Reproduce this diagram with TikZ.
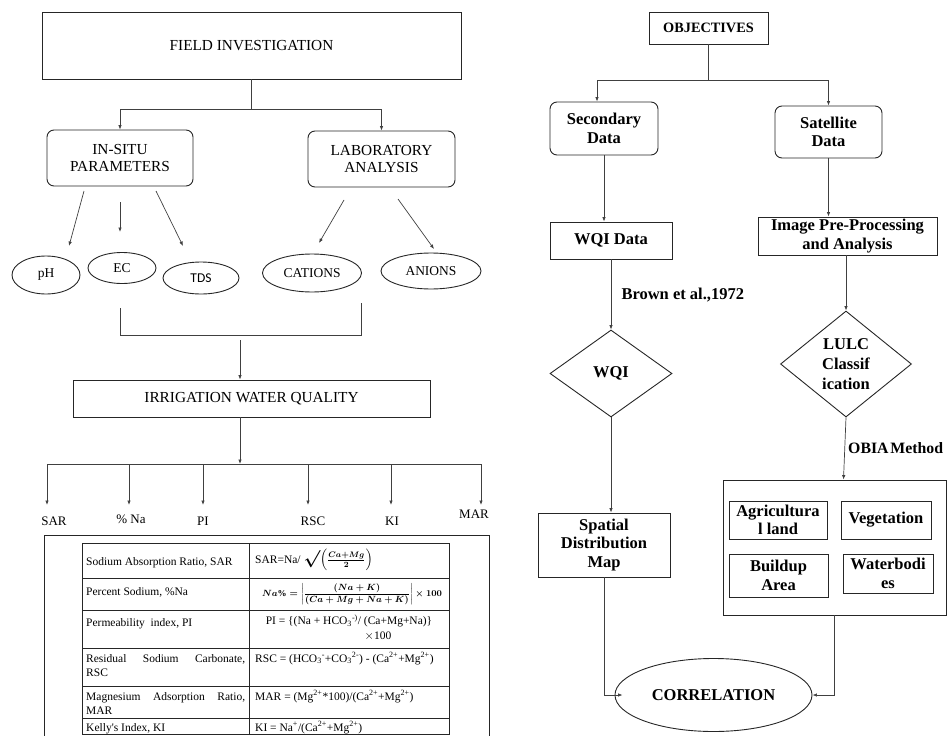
\documentclass[tikz,border=0pt]{standalone}
\usepackage{amsmath}
\usepackage{fontspec}
\setmainfont{Liberation Serif}
\newfontfamily\calib{Carlito}
\usetikzlibrary{shapes.geometric,arrows.meta,calc}
\newcommand\naformula{{\fontsize{9}{10}\selectfont\boldmath$Na\% = \left\lvert\displaystyle\frac{(Na+K)}{(Ca+Mg+Na+K)}\right\rvert \times \mathbf{100}$}}
\newcommand\sarformula{SAR=Na/ {\fontsize{16}{16}\selectfont\boldmath$\surd$}{\boldmath$\Bigl(\frac{Ca+Mg}{2}\Bigr)$}}
\begin{document}
\begin{tikzpicture}[x=1pt,y=-1pt,
  ln/.style={line width=0.7pt, draw=black!75},
  arr/.style={ln, -{Latex[length=4.5pt,width=3.5pt]}},
  box/.style={draw=black!85, line width=0.9pt, rectangle, inner sep=0pt, align=center},
  rbox/.style={box, rounded corners=7pt},
  ell/.style={draw=black!85, line width=0.9pt, ellipse, inner sep=0pt},
  dia/.style={draw=black!85, line width=0.9pt, diamond, inner sep=0pt, align=center},
  lf/.style={font=\fontsize{15.3}{17.5}\selectfont},
  ef/.style={font=\fontsize{13.5}{15}\selectfont},
  labf/.style={font=\fontsize{13}{15}\selectfont},
  rf/.style={font=\bfseries\fontsize{16.5}{18.5}\selectfont},
  tf/.style={font=\fontsize{11.5}{14.5}\selectfont, inner sep=0pt},
  tl/.style={tf, anchor=base west, text width=159pt, align=justify},
  tbl/.style={line width=0.8pt, draw=black!85},
]
\useasboundingbox (0,0) rectangle (948,736);

% ---------------- LEFT: field investigation ----------------
\node[box, lf, minimum width=419pt, minimum height=67pt] (field) at (251.5,45.5) {FIELD INVESTIGATION};
\node[rbox, lf, minimum width=146pt, minimum height=56pt] (insitu) at (120,158) {IN-SITU\\PARAMETERS};
\node[rbox, lf, minimum width=147pt, minimum height=56pt] (lab) at (381.5,159) {LABORATORY\\ANALYSIS};

\coordinate (fj) at (251.5,109);
\draw[ln] (field.south) -- (fj);
\draw[arr] (fj) -| (insitu.north);
\draw[arr] (fj) -| (lab.north);

\node[ell, ef, minimum width=68pt, minimum height=38pt] (ph) at (46,275) {pH};
\node[ell, ef, minimum width=68pt, minimum height=31pt] (ec) at (122,268) {EC};
\node[ell, font=\calib\fontsize{13.5}{15}\selectfont, minimum width=76pt, minimum height=32pt] (tds) at (201,278) {TDS};
\node[ell, ef, minimum width=99pt, minimum height=38pt] (cat) at (312,273) {CATIONS};
\node[ell, ef, minimum width=100pt, minimum height=36pt] (ani) at (431,271) {ANIONS};

\coordinate (p1s) at (84,191);  \coordinate (p1e) at (69,246);
\coordinate (p2s) at (120,202); \coordinate (p2e) at (120,232);
\coordinate (p3s) at (156,191); \coordinate (p3e) at (183,246);
\coordinate (p4s) at (344,200); \coordinate (p4e) at (319,243);
\coordinate (p5s) at (398,199); \coordinate (p5e) at (434,249);
\draw[arr] (p1s) -- (p1e);
\draw[arr] (p2s) -- (p2e);
\draw[arr] (p3s) -- (p3e);
\draw[arr] (p4s) -- (p4e);
\draw[arr] (p5s) -- (p5e);

% bracket
\coordinate (b1) at (120,308); \coordinate (b2) at (120,335);
\coordinate (b3) at (361,335); \coordinate (b4) at (361,303);
\draw[ln] (b1) -- (b2) -- (b3) -- (b4);

\node[box, lf, minimum width=357pt, minimum height=37pt] (iwq) at (251.5,398.5) {IRRIGATION WATER QUALITY};
\coordinate (bk) at (240,340);
\draw[arr] (bk) -- (bk |- iwq.north);
\coordinate (hj) at (240,464);
\draw[arr] (bk |- iwq.south) -- (hj);

\coordinate (h1) at (47,464); \coordinate (h2) at (129,464); \coordinate (h3) at (203,464);
\coordinate (h4) at (308,464); \coordinate (h5) at (391,464); \coordinate (h6) at (481,464);
\draw[ln] (h1) -- (h6);
\coordinate (t1) at (47,505); \coordinate (t2) at (129,505); \coordinate (t3) at (203,505);
\coordinate (t4) at (308,505); \coordinate (t5) at (391,505); \coordinate (t6) at (481,505);
\foreach \i in {1,...,6} { \draw[arr] (h\i) -- (t\i); }

\node[labf] (lsar) at (54,521) {SAR};
\node[labf] (lna)  at (131,519) {\% Na};
\node[labf] (lpi)  at (203,521) {PI};
\node[labf] (lrsc) at (313,521) {RSC};
\node[labf] (lki)  at (392,521) {KI};
\node[labf] (lmar) at (474,514) {MAR};

% ---------------- table ----------------
\draw[tbl] (44,737) -- (44,535) -- (489,535) -- (489,737);
\draw[tbl] (82,543) rectangle (449,734);
\draw[tbl] (249,543) -- (249,734);
\foreach \yy in {578,610,648,686,718} { \draw[tbl] (82,\yy) -- (449,\yy); }

\node[tl] (c1l) at (86,565) {Sodium Absorption Ratio, SAR};
\node[tl] (c2l) at (86,595) {Percent Sodium, \%Na};
\node[tl] (c3l) at (86,626) {Permeability\ \ index, PI};
\node[tl] (c4l) at (86,662) {Residual Sodium Carbonate,\linebreak RSC};
\node[tl] (c5l) at (86,700) {Magnesium Adsorption Ratio,\linebreak MAR};
\node[tl] (c6l) at (86,731) {Kelly\textquotesingle s Index, KI};

\node[tf, anchor=west] (c1r) at (255,560) {\sarformula};
\node[tf] (c2r) at (352,594) {\naformula};
\node[tf] (c3r) at (349,621) {PI = \{(Na + HCO\textsubscript{3}\textsuperscript{-)}/ (Ca+Mg+Na)\}};
\node[tf] (c3b) at (378,636) {$\times$100};
\node[tf, anchor=base west] (c4r) at (255,662) {RSC = (HCO\textsubscript{3}\textsuperscript{-}+CO\textsubscript{3}\textsuperscript{2-}) - (Ca\textsuperscript{2+}+Mg\textsuperscript{2+})};
\node[tf, anchor=base west] (c5r) at (255,700) {MAR = (Mg\textsuperscript{2+}*100)/(Ca\textsuperscript{2+}+Mg\textsuperscript{2+})};
\node[tf, anchor=base west] (c6r) at (255,731) {KI = Na\textsuperscript{+}/(Ca\textsuperscript{2+}+Mg\textsuperscript{2+})};

% ---------------- RIGHT: objectives ----------------
\node[box, font=\bfseries\fontsize{14.3}{16}\selectfont, minimum width=119pt, minimum height=32pt] (obj) at (708.5,28) {OBJECTIVES};
\node[rbox, rf, minimum width=108pt, minimum height=53pt] (sec) at (604,128.5) {Secondary\\Data};
\node[rbox, rf, minimum width=107pt, minimum height=52pt] (sat) at (828.5,132) {Satellite\\Data};

\coordinate (oj) at (708.5,80);
\draw[ln] (obj.south) -- (oj);
\draw[arr] (oj) -| ($(sec.north)+(-7,0)$);
\draw[arr] (oj) -| (sat.north);

\node[box, rf, minimum width=122pt, minimum height=37pt] (wqid) at (611,240.5) {WQI Data};
\node[box, rf, minimum width=179pt, minimum height=38pt] (img) at (847.5,236) {Image Pre-Processing\\and Analysis};
\draw[arr] (sec.south) -- (sec.south |- wqid.north);
\draw[arr] (sat.south) -- (sat.south |- img.north);

\node[dia, rf, minimum width=122pt, minimum height=87pt] (wqi) at (611,373.5) {WQI};
\node[dia, rf, font=\bfseries\fontsize{16.5}{20}\selectfont, minimum width=131pt, minimum height=106pt] (lulc) at (846,364) {LULC\\Classif\\ication};

\draw[arr] (wqid.south) -- (wqi.north);
\node[rf, anchor=west] (brown) at (618,295) {Brown et al.,1972};
\draw[arr] (lulc.north |- img.south) -- (lulc.north);

\node[box, rf, minimum width=132pt, minimum height=64pt] (spat) at (604,545) {Spatial\\Distribution\\Map};
\draw[arr] (wqi.south) -- (wqi.south |- spat.north);

\node[box, minimum width=223pt, minimum height=135pt] (big) at (834.5,547.5) {};
\node[box, rf, minimum width=98pt, minimum height=38pt] (agri) at (778,520) {Agricultura\\l land};
\node[box, rf, minimum width=90pt, minimum height=38pt] (veg) at (886,520) {Vegetation};
\node[box, rf, minimum width=99pt, minimum height=43pt] (build) at (778.5,575.5) {Buildup\\Area};
\node[box, rf, minimum width=90pt, minimum height=39pt] (water) at (888,573.5) {Waterbodi\\es};

\draw[arr] (lulc.south) -- ($(big.north)+(9,0)$);
\node[font=\bfseries\fontsize{15.8}{18}\selectfont, anchor=west, inner sep=0pt] (obia) at (848,448) {OBIA\hspace{0.12em}Method};

\node[ell, rf, minimum width=197pt, minimum height=73pt] (corr) at (713.5,695) {CORRELATION};
\draw[arr] (spat.south) |- ($(corr.west)+(8,0)$);
\draw[arr] (big.south) |- (corr.east);

\end{tikzpicture}
\end{document}
